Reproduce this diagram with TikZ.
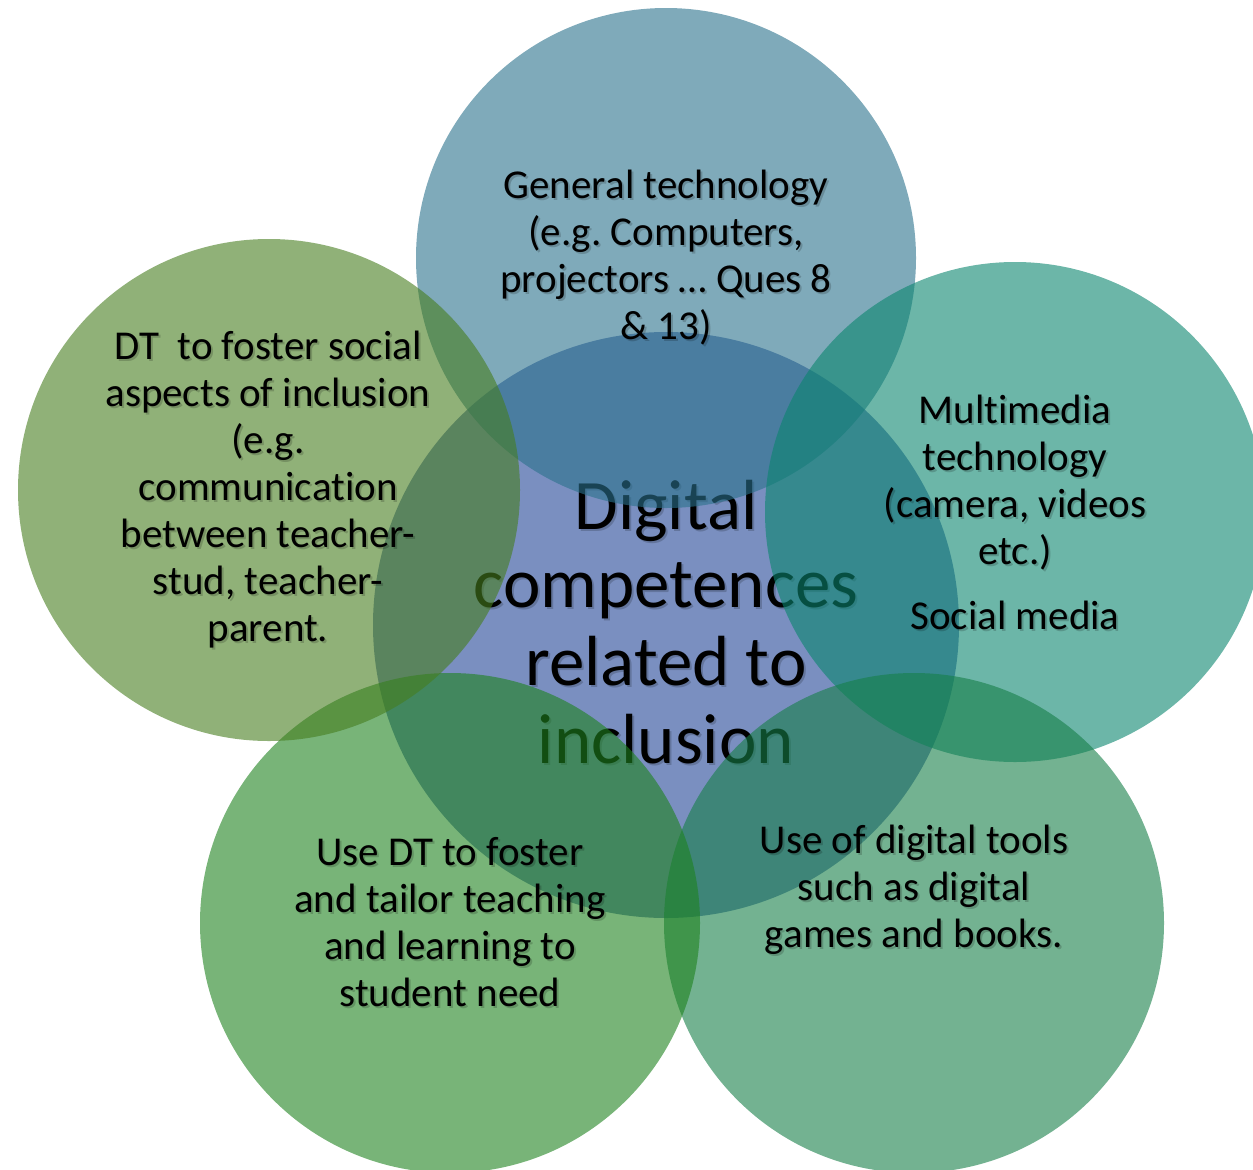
\documentclass[tikz,border=0pt]{standalone}
\usepackage{fontspec}
\setmainfont{Carlito}[Ligatures=NoCommon]
\frenchspacing
\definecolor{hubfill}{RGB}{122,143,192}
\definecolor{topfill}{RGB}{42,113,140}
\definecolor{leftfill}{RGB}{70,125,30}
\definecolor{rightfill}{RGB}{10,133,110}
\definecolor{blfill}{RGB}{30,130,30}
\definecolor{brfill}{RGB}{22,127,72}
\tikzset{
  petal/.style={circle, fill opacity=0.6, draw=none, inner sep=0pt},
  petaltext/.style={align=center, inner sep=0pt, font=\fontsize{41}{47}\selectfont},
  hubtext/.style={align=center, inner sep=0pt, font=\fontsize{71}{78}\selectfont}
}
% label with a faint drop shadow underneath
\newcommand{\shadowlabel}[4]{%
  \node[#1, text=black, text opacity=0.18] at ($(#3)+(2,2)$) {#4};
  \node[#1] (#2) at (#3) {#4};}
\usetikzlibrary{calc}
\begin{document}
\begin{tikzpicture}[x=1pt,y=-1pt]
\useasboundingbox (0,0) rectangle (1253,1170);
\clip (0,0) rectangle (1253,1170);
% central circle and its title
\fill[hubfill] (666,625) circle (293);
\shadowlabel{hubtext}{hub}{666,622}{Digital\\competences\\related to\\inclusion}
% surrounding translucent circles
\fill[petal, topfill] (666,258) circle (250);
\fill[petal, rightfill] (1015,512) circle (250);
\fill[petal, brfill] (914,923) circle (250);
\fill[petal, blfill] (450,923) circle (250);
\fill[petal, leftfill] (269,490) circle (251);
% labels of the surrounding circles
\shadowlabel{petaltext}{general}{666,258}{General technology\\(e.g. Computers,\\projectors \dots\ Ques 8\\\& 13)}
\shadowlabel{petaltext}{social}{268,490}{DT\ \ to foster social\\aspects of inclusion\\(e.g.\\communication\\between teacher-\\stud, teacher-\\parent.}
\shadowlabel{petaltext}{multi}{1015,512}{Multimedia\\technology\\(camera, videos\\etc.)\\[18pt]Social media}
\shadowlabel{petaltext}{tailor}{450,922}{Use DT to foster\\and tailor teaching\\and learning to\\student need}
\shadowlabel{petaltext}{tools}{914,890}{Use of digital tools\\such as digital\\games and books.}
\end{tikzpicture}
\end{document}
